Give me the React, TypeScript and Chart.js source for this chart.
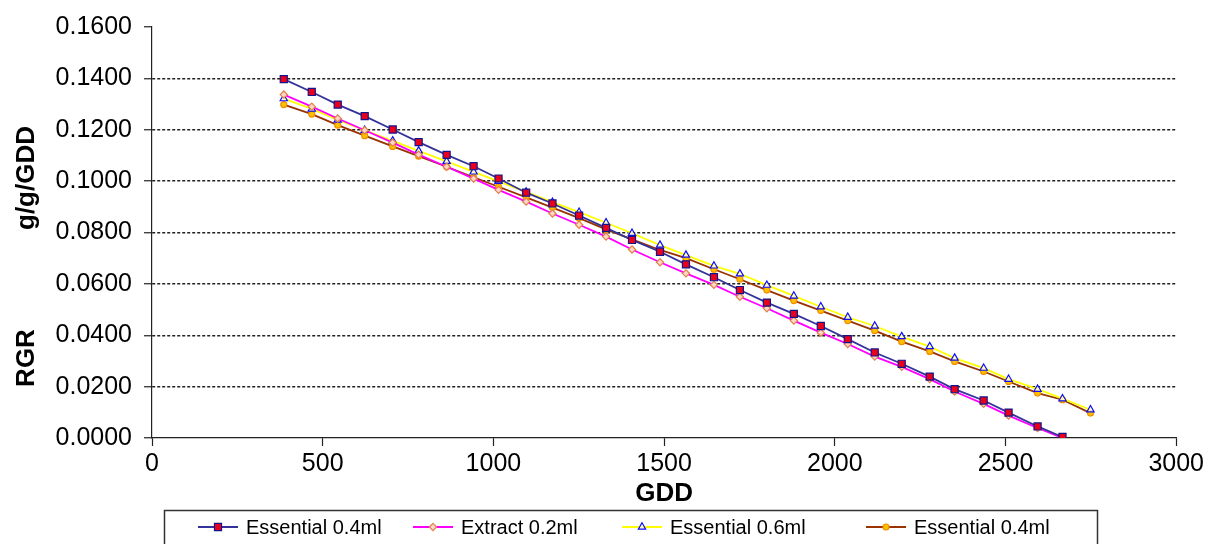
import React, { useEffect, useRef } from "react";
import { Chart, registerables } from "chart.js";

Chart.register(...registerables);

// GDD (x) positions of the samples
const gdd = [386, 468, 544, 623, 705, 781, 863, 942, 1015, 1096, 1173, 1251, 1330, 1406, 1488, 1564, 1646, 1722, 1801, 1880, 1959, 2038, 2117, 2196, 2278, 2351, 2436, 2509, 2594, 2667, 2749];

const essential04 = [0.1397, 0.1347, 0.1298, 0.1253, 0.1201, 0.1152, 0.1102, 0.1058, 0.1010, 0.0955, 0.0913, 0.0866, 0.0818, 0.0771, 0.0725, 0.0676, 0.0626, 0.0576, 0.0527, 0.0483, 0.0436, 0.0385, 0.0333, 0.0289, 0.0239, 0.0190, 0.0146, 0.0099, 0.0045, 0.0004];
const extract02 = [0.1337, 0.1290, 0.1244, 0.1198, 0.1150, 0.1103, 0.1056, 0.1010, 0.0966, 0.0920, 0.0874, 0.0830, 0.0784, 0.0734, 0.0684, 0.0641, 0.0596, 0.0550, 0.0505, 0.0457, 0.0410, 0.0366, 0.0317, 0.0277, 0.0229, 0.0181, 0.0133, 0.0087, 0.0039, 0.0000];
const essential06 = [0.1321, 0.1281, 0.1238, 0.1198, 0.1157, 0.1118, 0.1077, 0.1036, 0.0999, 0.0958, 0.0918, 0.0879, 0.0838, 0.0797, 0.0751, 0.0712, 0.0670, 0.0639, 0.0595, 0.0553, 0.0511, 0.0470, 0.0436, 0.0395, 0.0356, 0.0311, 0.0272, 0.0229, 0.0190, 0.0153, 0.0110];
const essential04b = [0.1298, 0.1261, 0.1218, 0.1177, 0.1135, 0.1097, 0.1056, 0.1015, 0.0978, 0.0937, 0.0897, 0.0856, 0.0812, 0.0773, 0.0732, 0.0700, 0.0657, 0.0618, 0.0576, 0.0535, 0.0496, 0.0457, 0.0418, 0.0375, 0.0337, 0.0298, 0.0259, 0.0220, 0.0175, 0.0149, 0.0097];

const seriesLabels = ["Essential 0.4ml", "Extract 0.2ml", "Essential 0.6ml", "Essential 0.4ml"];
const xTitle = "GDD";
const yTitleLower = "RGR";
const yTitleUpper = "g/g/GDD";

const FONT = "'Liberation Sans', Arial, sans-serif";

const styles = [
  { line: "#333399", bg: "#E8001C", border: "#14148A", shape: "rect", r: 5 },
  { line: "#FF00FF", bg: "#FFD6C8", border: "#E0804A", shape: "rectRot", r: 3.6 },
  { line: "#FFFF00", bg: "rgba(255,255,255,0.7)", border: "#1010F0", shape: "triangle", r: 4.2 },
  { line: "#993300", bg: "#FFC000", border: "#F09000", shape: "circle", r: 3 },
];

function toPts(vals: number[]) {
  return vals.map((v, i) => ({ x: gdd[i], y: v }));
}

function drawMarker(ctx: CanvasRenderingContext2D, shape: string, x: number, y: number, r: number, bg: string, border: string) {
  ctx.save();
  ctx.fillStyle = bg;
  ctx.strokeStyle = border;
  ctx.lineWidth = 1.2;
  ctx.beginPath();
  if (shape === "rect") {
    const s = r * Math.SQRT1_2;
    ctx.rect(x - s, y - s, 2 * s, 2 * s);
  } else if (shape === "rectRot") {
    ctx.moveTo(x, y - r);
    ctx.lineTo(x + r, y);
    ctx.lineTo(x, y + r);
    ctx.lineTo(x - r, y);
    ctx.closePath();
  } else if (shape === "triangle") {
    ctx.moveTo(x, y - r);
    ctx.lineTo(x + r * 0.866, y + r * 0.5);
    ctx.lineTo(x - r * 0.866, y + r * 0.5);
    ctx.closePath();
  } else {
    ctx.arc(x, y, r, 0, Math.PI * 2);
  }
  ctx.fill();
  ctx.stroke();
  ctx.restore();
}

const legendLineStarts = [198, 413, 622, 866];

const decorPlugin = {
  id: "decor",
  afterDraw(chart: any) {
    const ctx: CanvasRenderingContext2D = chart.ctx;
    const area = chart.chartArea;
    ctx.save();
    ctx.fillStyle = "#000";
    // x title
    ctx.font = `bold 26px ${FONT}`;
    ctx.textAlign = "center";
    ctx.textBaseline = "middle";
    ctx.fillText(xTitle, (area.left + area.right) / 2, 494);
    // y titles
    ctx.save();
    ctx.translate(27, 358);
    ctx.rotate(-Math.PI / 2);
    ctx.fillText(yTitleLower, 0, 0);
    ctx.restore();
    ctx.save();
    ctx.translate(27, 178);
    ctx.rotate(-Math.PI / 2);
    ctx.fillText(yTitleUpper, 0, 0);
    ctx.restore();
    // legend box
    ctx.strokeStyle = "#333";
    ctx.lineWidth = 1.5;
    ctx.strokeRect(164.5, 510.5, 933, 60);
    // legend items
    ctx.font = `20px ${FONT}`;
    ctx.textAlign = "left";
    ctx.textBaseline = "middle";
    const ly = 527;
    chart.data.datasets.forEach((ds: any, i: number) => {
      const st = styles[i];
      const x0 = legendLineStarts[i];
      ctx.strokeStyle = st.line;
      ctx.lineWidth = 1.8;
      ctx.beginPath();
      ctx.moveTo(x0, ly);
      ctx.lineTo(x0 + 40, ly);
      ctx.stroke();
      drawMarker(ctx, st.shape, x0 + 20, ly, st.r, st.bg, st.border);
      ctx.fillStyle = "#000";
      ctx.fillText(ds.label, x0 + 48, ly + 1);
    });
    ctx.restore();
  },
};

export default function App() {
  const ref = useRef<HTMLCanvasElement | null>(null);
  useEffect(() => {
    if (!ref.current) return;
    const seriesData = [essential04, extract02, essential06, essential04b];
    const chart = new Chart(ref.current, {
      type: "scatter",
      data: {
        datasets: seriesData.map((vals, i) => ({
          label: seriesLabels[i],
          data: toPts(vals),
          showLine: true,
          borderColor: styles[i].line,
          borderWidth: 1.8,
          pointStyle: styles[i].shape as any,
          pointRadius: styles[i].r,
          pointBackgroundColor: styles[i].bg,
          pointBorderColor: styles[i].border,
          pointBorderWidth: 1.2,
          tension: 0,
        })),
      },
      options: {
        animation: false,
        responsive: false,
        devicePixelRatio: 1,
        layout: { padding: { left: 0, right: 29, top: 27, bottom: 0 } },
        plugins: { legend: { display: false }, tooltip: { enabled: false } },
        scales: {
          x: {
            type: "linear",
            min: 0,
            max: 3000,
            ticks: {
              stepSize: 500,
              font: { family: FONT, size: 25 },
              color: "#000",
              padding: 3,
              maxRotation: 0,
              callback: (v: any) => String(Math.round(Number(v))),
            },
            grid: { drawOnChartArea: false, drawTicks: true, tickLength: 8, tickColor: "#222", tickWidth: 1.2 },
            border: { display: true, color: "#222", width: 1.2 },
            afterFit: (scale: any) => { scale.height = 106; },
          },
          y: {
            type: "linear",
            min: 0,
            max: 0.16,
            ticks: {
              stepSize: 0.02,
              font: { family: FONT, size: 25 },
              color: "#000",
              padding: 12,
              callback: (v: any) => Number(v).toFixed(4),
            },
            grid: {
              drawOnChartArea: true,
              drawTicks: true,
              tickLength: 8,
              tickColor: "#222",
              tickWidth: 1.2,
              lineWidth: 1.5,
              color: (c: any) => {
                const v = c.tick ? c.tick.value : 0;
                if (Math.abs(v) < 1e-9 || Math.abs(v - 0.16) < 1e-9) return "rgba(0,0,0,0)";
                return "#222";
              },
            },
            border: { display: true, color: "#222", width: 1.2, dash: [3, 2] },
            afterFit: (scale: any) => { scale.width = 152; },
          },
        },
      },
      plugins: [decorPlugin],
    });
    return () => chart.destroy();
  }, []);
  return (
    <div style={{ position: "absolute", left: 0, top: 0, width: 1207, height: 544, background: "#fff" }}>
      <canvas ref={ref} width={1207} height={544} />
    </div>
  );
}
